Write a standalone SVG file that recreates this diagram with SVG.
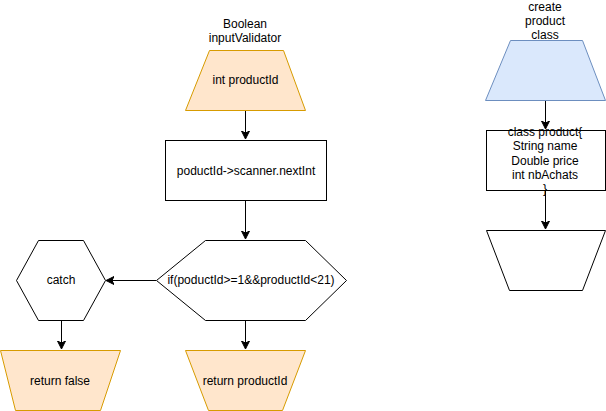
<svg xmlns="http://www.w3.org/2000/svg" width="606" height="411" viewBox="0 0 606 411">
<defs>
<marker id="arr" markerWidth="10" markerHeight="10" refX="7" refY="4" orient="auto" markerUnits="userSpaceOnUse">
<path d="M0,0 L8,4 L0,8 L2,4 Z" fill="#000" stroke="#000" stroke-width="1"/>
</marker>
</defs>
<style>
text{font-family:"Liberation Sans",Arial,sans-serif;font-size:12px;fill:#000;text-anchor:middle}
.o{fill:#ffe6cc;stroke:#d79b00;stroke-width:1}
.b{fill:#dae8fc;stroke:#6c8ebf;stroke-width:1}
.w{fill:#fff;stroke:#000;stroke-width:1}
.e{fill:none;stroke:#000;stroke-width:1;marker-end:url(#arr)}
</style>
<rect width="606" height="411" fill="#fff"/>
<g id="edges">
<path class="e" d="M245.5,110 V138"/>
<path class="e" d="M245.5,200 V238"/>
<path class="e" d="M156,280.5 H107"/>
<path class="e" d="M61.5,320 V348"/>
<path class="e" d="M245.5,320 V348"/>
<path class="e" d="M545.5,100 V128"/>
<path class="e" d="M545.5,190 V228"/>
</g>
<g id="n-title">
<text x="245" y="28">Boolean</text>
<text x="245" y="42">inputValidator</text>
</g>
<g id="n-input">
<path class="o" d="M209.5,50.5 H283.5 L305.5,110.5 H185.5 Z"/>
<text x="245.5" y="84">int productId</text>
</g>
<g id="n-scan">
<rect class="w" x="165.5" y="140.5" width="161" height="60"/>
<text x="246" y="175">poductId-&gt;scanner.nextInt</text>
</g>
<g id="n-if">
<path class="w" d="M156.5,280.5 L205.5,240.5 H305.5 L346.5,280.5 L305.5,320.5 H205.5 Z"/>
<text x="251" y="284">if(poductId&gt;=1&amp;&amp;productId&lt;21)</text>
</g>
<g id="n-catch">
<path class="w" d="M16.5,280.5 L38.5,240.5 H83.5 L105.5,280.5 L83.5,320.5 H38.5 Z"/>
<text x="61" y="284">catch</text>
</g>
<g id="n-false">
<path class="o" d="M0.5,350.5 H120.5 L100.5,410.5 H15.5 Z"/>
<text x="60" y="385">return false</text>
</g>
<g id="n-retid">
<path class="o" d="M185.5,350.5 H305.5 L282.5,410.5 H208.5 Z"/>
<text x="245" y="385">return productId</text>
</g>
<g id="n-create-title">
<text x="545" y="11">create</text>
<text x="545" y="25">product</text>
<text x="545" y="39">class</text>
</g>
<g id="n-create">
<path class="b" d="M510.5,40.5 H582.5 L605.5,100.5 H485.5 Z"/>
</g>
<g id="n-class">
<rect class="w" x="486.5" y="130.5" width="119" height="60"/>
<text x="545" y="136">class product{</text>
<text x="545" y="150">String name</text>
<text x="545" y="165">Double price</text>
<text x="545" y="179">int nbAchats</text>
<text x="545" y="193">}</text>
</g>
<g id="n-out">
<path class="w" d="M486.5,230.5 H605.5 L582.5,290.5 H509.5 Z"/>
</g>
</svg>
